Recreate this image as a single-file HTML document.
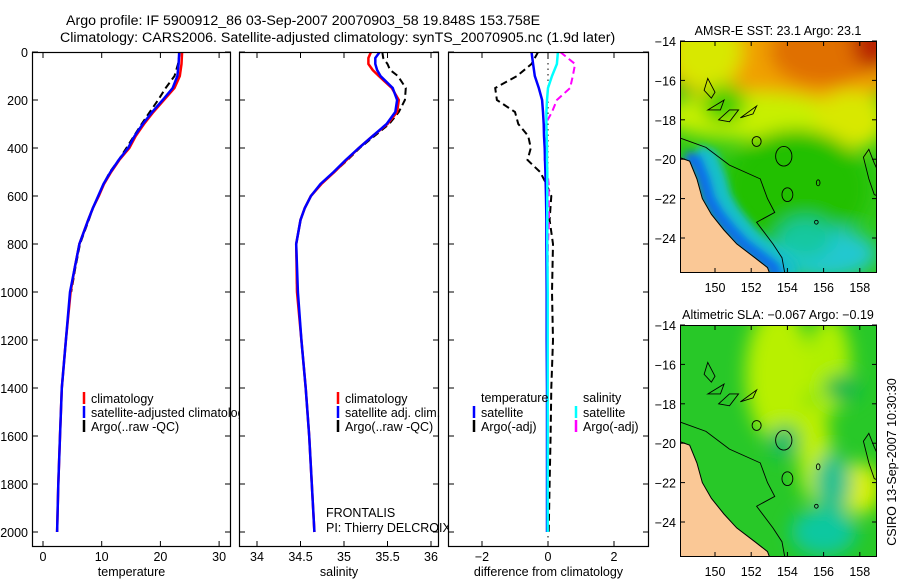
<!DOCTYPE html>
<html><head><meta charset="utf-8">
<style>
body{margin:0;background:#fff;}
svg{display:block;font-family:"Liberation Sans",sans-serif;}
text{fill:#000;}
</style></head>
<body>
<svg id="fig" width="900" height="580" viewBox="0 0 900 580" xmlns="http://www.w3.org/2000/svg">
<defs>
<filter id="blur1" x="-20%" y="-20%" width="140%" height="140%"><feGaussianBlur stdDeviation="9"/></filter>
<filter id="blur2" x="-20%" y="-20%" width="140%" height="140%"><feGaussianBlur stdDeviation="4"/></filter>
<clipPath id="clipTop"><rect x="680" y="41" width="197" height="231"/></clipPath>
<clipPath id="clipBot"><rect x="680" y="325" width="197" height="232"/></clipPath>
<clipPath id="clipP1"><rect x="32" y="52" width="199" height="495"/></clipPath>
<clipPath id="clipP2"><rect x="239" y="52" width="200" height="495"/></clipPath>
<clipPath id="clipP3"><rect x="448" y="52" width="201" height="495"/></clipPath>
</defs>
<text x="66" y="25" font-size="14.2">Argo profile: IF 5900912_86 03-Sep-2007 20070903_58 19.848S 153.758E</text>
<text x="60" y="42" font-size="14.2">Climatology: CARS2006. Satellite-adjusted climatology: synTS_20070905.nc (1.9d later)</text>
<g id="panels"></g>
<g id="maps"></g>
<text x="0" y="0" font-size="12.5" text-anchor="middle" transform="translate(896,462) rotate(-90)">CSIRO 13-Sep-2007 10:30:30</text>
</svg>
<script>
// ---------- data ----------
const depthT = [0,50,100,150,200,250,300,350,400,450,500,550,600,650,700,800,900,1000,1200,1400,1600,1800,2000];
const tempClim = [23.7,23.6,23.3,22.4,20.6,18.8,17.2,15.8,14.7,13.0,11.6,10.4,9.5,8.5,7.7,6.2,5.4,4.7,3.9,3.2,2.9,2.6,2.4];
const tempSat  = [23.2,23.1,22.9,22.1,20.4,18.6,17.0,15.6,14.5,12.9,11.5,10.3,9.4,8.5,7.7,6.2,5.4,4.6,3.9,3.2,2.9,2.6,2.4];
const tempArgo = [23.3,23.0,22.4,20.9,19.6,18.2,16.8,15.5,14.2,12.9,11.4,10.3,9.5,8.5,7.8,6.3,5.5,4.8];
const depthS = [0,25,50,75,100,150,200,250,300,350,400,450,500,550,600,650,700,800,1000,1200,1400,1600,1800,2000];
const salClim = [35.31,35.28,35.28,35.33,35.40,35.55,35.63,35.61,35.50,35.33,35.17,35.03,34.89,34.74,34.62,34.55,34.50,34.45,34.46,34.51,34.56,34.60,34.63,34.66];
const salSat  = [35.41,35.36,35.36,35.38,35.42,35.56,35.61,35.59,35.49,35.33,35.17,35.02,34.88,34.73,34.62,34.55,34.50,34.45,34.47,34.51,34.56,34.60,34.63,34.66];
const salArgo = [35.44,35.45,35.50,35.53,35.62,35.71,35.70,35.63,35.52,35.35,35.18,35.04,34.89,34.74,34.62,34.55,34.50,34.45,34.46];
const depthD = [0,50,100,150,200,250,300,350,400,450,500,550,600,700,800,1000,1200,1400,1600,1800,2000];
const dTSat  = [-0.50,-0.45,-0.40,-0.28,-0.18,-0.15,-0.13,-0.12,-0.10,-0.09,-0.08,-0.07,-0.06,-0.05,-0.05,-0.04,-0.04,-0.03,-0.03,-0.03,-0.03];
const dTArgo = [-0.30,-0.50,-0.94,-1.60,-1.55,-1.00,-0.90,-0.60,-0.52,-0.62,-0.24,-0.05,0.10,0.05,0.15,0.12,0.15,0.10,0.08,0.05,0.02];
const dSSat  = [0.30,0.27,0.12,0.00,-0.03,-0.05,-0.05,-0.04,-0.03,-0.03,-0.02,-0.02,-0.02,-0.02,-0.02,-0.01,-0.01,-0.01,-0.01,-0.01,-0.01];
const dSArgo = [0.37,0.82,0.75,0.67,0.27,0.12,-0.08,-0.12,-0.08,-0.10,-0.02,0.02,0.02,0.03,0.0,-0.02];
const yTicks = [0,200,400,600,800,1000,1200,1400,1600,1800,2000];
const tTicks = [0,10,20,30];
const sTicks = [34,34.5,35,35.5,36];
const dTicks = [-2,0,2];
const latTicks = [-14,-16,-18,-20,-22,-24];
const lonTicks = [150,152,154,156,158];

const NS='http://www.w3.org/2000/svg';
function el(tag, attrs, parent){const e=document.createElementNS(NS,tag);for(const k in attrs)e.setAttribute(k,attrs[k]);if(parent)parent.appendChild(e);return e;}
const yD = d => 52 + d*0.24;
const panelsG = document.getElementById('panels');

function makePanel(cfg){
  const g = el('g',{},panelsG);
  
  
  const bg = el('rect',{x:cfg.x0,y:52,width:cfg.x1-cfg.x0,height:495,fill:'#fff'},g);
  
  
  return g;
}
function series(g, xs, ds, xf, color, w, dash, clip, name){
  const pts = xs.map((v,i)=> xf(v).toFixed(1)+','+yD(ds[i]).toFixed(1)).join(' ');
  const p = el('polyline',{points:pts,fill:'none',stroke:color,'stroke-width':w,'clip-path':'url(#'+clip+')'},g);
  if(dash) p.setAttribute('stroke-dasharray',dash);
  
  
}
function frame(g, x0, x1, xticks, xf, xlabel, yLabels, name){
  const f = el('rect',{x:x0+0.5,y:52.5,width:x1-x0-1,height:494,fill:'none',stroke:'#000','stroke-width':1.2},g);
  
  
  yTicks.forEach(d=>{
    el('line',{x1:x0,x2:x0+6,y1:yD(d),y2:yD(d),stroke:'#000'},g);
    el('line',{x1:x1-6,x2:x1,y1:yD(d),y2:yD(d),stroke:'#000'},g);
    if(yLabels){
      const t = el('text',{x:28,y:yD(d)+5,'font-size':12.5,'text-anchor':'end'},g);
      t.textContent = d;
      
      
    }
  });
  xticks.forEach(v=>{
    const x = xf(v);
    el('line',{x1:x,x2:x,y1:52,y2:58,stroke:'#000'},g);
    el('line',{x1:x,x2:x,y1:541,y2:547,stroke:'#000'},g);
    const t = el('text',{x:x,y:561,'font-size':12.5,'text-anchor':'middle'},g);
    t.textContent = v<0 ? '\u2212'+(-v) : v;
    
    
  });
  const xl = el('text',{x:(x0+x1)/2,y:576,'font-size':12.5,'text-anchor':'middle'},g);
  xl.textContent = xlabel;
  
  
}
function legend(g, x, y, color, label, name){
  const m = el('line',{x1:x,x2:x,y1:y-6,y2:y+6,stroke:color,'stroke-width':2.5},g);
  
  
  if(label){
    const t = el('text',{x:x+7,y:y+5,'font-size':12.5},g);
    t.textContent = label;
    
    
  }
}
function txt(g,x,y,s,name,anchor){
  const t = el('text',{x:x,y:y,'font-size':12.5,'text-anchor':anchor||'start'},g);
  t.textContent = s;
  
  
  return t;
}

// Panel 1: temperature
const xT = v => 43 + v*5.87;
const p1 = makePanel({name:'temperature-panel',x0:32,x1:231});
series(p1,tempArgo,depthT.slice(0,tempArgo.length),xT,'#000',2,'7,4','clipP1','argo-temperature-line');
series(p1,tempClim,depthT,xT,'#f00',2.5,null,'clipP1','climatology-temperature-line');
series(p1,tempSat,depthT,xT,'#00f',2.5,null,'clipP1','satellite-temperature-line');
legend(p1,84,398,'#f00','climatology','legend-climatology');
legend(p1,84,412,'#00f','satellite-adjusted climatology','legend-satellite-adjusted');
legend(p1,84,426,'#000','Argo(..raw -QC)','legend-argo');

// Panel 2: salinity
const xS = v => 257 + (v-34)*87;
const p2 = makePanel({name:'salinity-panel',x0:239,x1:439});
series(p2,salArgo,depthS.slice(0,salArgo.length),xS,'#000',2,'7,4','clipP2','argo-salinity-line');
series(p2,salClim,depthS,xS,'#f00',2.5,null,'clipP2','climatology-salinity-line');
series(p2,salSat,depthS,xS,'#00f',2.5,null,'clipP2','satellite-salinity-line');
legend(p2,338,398,'#f00','climatology','legend-climatology-sal');
legend(p2,338,412,'#00f','satellite adj. clim.','legend-satellite-sal');
legend(p2,338,426,'#000','Argo(..raw -QC)','legend-argo-sal');
txt(p2,326,517,'FRONTALIS','float-name');
txt(p2,326,532,'PI: Thierry DELCROIX','pi-name');

// Panel 3: difference
const xDf = v => 548 + v*33;
const p3 = makePanel({name:'difference-panel',x0:448,x1:649});
el('line',{x1:xDf(0),x2:xDf(0),y1:52,y2:547,stroke:'#000','stroke-dasharray':'1.5,4'},p3);
series(p3,dTArgo,depthD.slice(0,dTArgo.length),xDf,'#000',2,'7,4','clipP3','argo-temperature-diff-line');
series(p3,dSArgo,depthD.slice(0,dSArgo.length),xDf,'#f0f',2,'7,4','clipP3','argo-salinity-diff-line');
series(p3,dTSat,depthD,xDf,'#00f',2.5,null,'clipP3','satellite-temperature-diff-line');
series(p3,dSSat,depthD,xDf,'#0ff',2.5,null,'clipP3','satellite-salinity-diff-line');
txt(p3,481,402,'temperature','legend-temperature-header');
legend(p3,474,412,'#00f','satellite','legend-temp-satellite');
legend(p3,474,426,'#000','Argo(-adj)','legend-temp-argo');
txt(p3,583,402,'salinity','legend-salinity-header');
legend(p3,576,412,'#0ff','satellite','legend-sal-satellite');
legend(p3,576,426,'#f0f','Argo(-adj)','legend-sal-argo');

frame(p1,32,231,tTicks,xT,'temperature',true,'temperature');
frame(p2,239,439,sTicks,xS,'salinity',false,'salinity');
frame(p3,448,649,dTicks,xDf,'difference from climatology',false,'difference');

// ---------- maps ----------
const mapsG = document.getElementById('maps');
const mx = lon => 715 + (lon-150)*18.1;
function makeMap(top, clip, title, blobs, coastBand, base, name){
  const my = lat => top + (-14-lat)*19.7;
  const g = el('g',{},mapsG);
  
  
  const inner = el('g',{'clip-path':'url(#'+clip+')'},g);
  el('rect',{x:680,y:top,width:197,height:232,fill:base},inner);
  const bl = el('g',{filter:'url(#blur1)'},inner);
  blobs.forEach(b=>{
    el('ellipse',{cx:mx(b[0]),cy:my(b[1]),rx:b[2]*18.1,ry:b[3]*19.7,fill:b[4]},bl);
  });
  const coast = [[148,-19.9],[148.6,-20.1],[149.0,-21.0],[149.3,-22.0],[149.8,-22.8],[150.5,-23.6],[151.2,-24.3],[152.2,-25.0],[152.9,-25.5],[153.1,-26],[148,-26]];
  if(coastBand){
    const bg2 = el('g',{filter:'url(#blur2)'},inner);
    coastBand.forEach(b=>{
      const pts = coast.slice(0,10).map(c=>mx(c[0]+b[0])+','+my(c[1]));
      el('polyline',{points:pts.join(' '),fill:'none',stroke:b[2],'stroke-width':b[1]},bg2);
    });
  }
  const land = el('polygon',{points:coast.map(c=>mx(c[0])+','+my(c[1])).join(' '),fill:'#fac896',stroke:'#000','stroke-width':1},inner);
  
  
  const c1 = [[148,-18.9],[149.5,-19.4],[150.8,-20.3],[152.5,-21.0],[152.9,-22.0],[153.3,-22.7],[152.3,-23.2],[153.2,-24.3],[153.7,-25.0],[153.9,-26]];
  el('polyline',{points:c1.map(c=>mx(c[0])+','+my(c[1])).join(' '),fill:'none',stroke:'#000','stroke-width':0.9},inner);
  const c2 = [[159.1,-20.8],[158.8,-20.2],[158.5,-19.5],[158.2,-19.9],[158.5,-21.0],[158.8,-21.8],[159.1,-21.9]];
  el('polyline',{points:c2.map(c=>mx(c[0])+','+my(c[1])).join(' '),fill:'none',stroke:'#000','stroke-width':0.9},inner);
  [[153.8,-19.85,0.45,0.5],[152.3,-19.1,0.25,0.25],[154.0,-21.8,0.3,0.35],[155.7,-21.2,0.1,0.15],[155.6,-23.2,0.1,0.1]].forEach(e=>{
    el('ellipse',{cx:mx(e[0]),cy:my(e[1]),rx:e[2]*18.1,ry:e[3]*19.7,fill:'none',stroke:'#000','stroke-width':0.9},inner);
  });
  [[[149.4,-16.5],[149.6,-15.9],[150.0,-16.6],[149.8,-16.9]],[[149.6,-17.5],[150.5,-17.0],[150.3,-17.5]],[[150.2,-18.0],[150.8,-17.5],[151.3,-17.5],[150.8,-18.1]],[[151.4,-17.9],[152.3,-17.3],[152.1,-17.7]]].forEach(s=>{
    el('polygon',{points:s.map(c=>mx(c[0])+','+my(c[1])).join(' '),fill:'none',stroke:'#000','stroke-width':0.9},inner);
  });
  const fr = el('rect',{x:680.5,y:top+0.5,width:196,height:231,fill:'none',stroke:'#000'},g);
  
  
  latTicks.forEach(l=>{
    el('line',{x1:680,x2:685,y1:my(l),y2:my(l),stroke:'#000'},g);
    el('line',{x1:872,x2:877,y1:my(l),y2:my(l),stroke:'#000'},g);
    const t = el('text',{x:676,y:my(l)+5,'font-size':12.5,'text-anchor':'end'},g);
    t.textContent = '\u2212'+(-l);
    
    
  });
  lonTicks.forEach(l=>{
    el('line',{x1:mx(l),x2:mx(l),y1:top,y2:top+5,stroke:'#000'},g);
    el('line',{x1:mx(l),x2:mx(l),y1:top+227,y2:top+232,stroke:'#000'},g);
    const t = el('text',{x:mx(l),y:top+251,'font-size':12.5,'text-anchor':'middle'},g);
    t.textContent = l;
    
    
  });
  const tt = el('text',{x:778,y:top-6,'font-size':12.5,'text-anchor':'middle'},g);
  tt.textContent = title;
  
  
}
makeMap(41,'clipTop','AMSR-E SST: 23.1  Argo: 23.1',[
  [154,-14,8,3.5,'#f0a000'],[156,-14.5,3,1.8,'#e07000'],[158.8,-14,1.2,1.5,'#b82000'],
  [149.5,-14.5,2,2,'#d8e800'],[152,-17.8,5,1.2,'#c8f000'],[157.5,-18,2,1.5,'#d8e800'],
  [150.5,-17.2,1.2,1,'#40d000'],[154.5,-21.5,4,3,'#20c000'],[156,-24.8,3.0,1.3,'#20c8d0'],
  [155,-24,1.5,1.0,'#18c8a0']
],[[0.9,26,'#18c0c8'],[0.35,14,'#1070e8']],'#30c818','sst-map');
makeMap(325,'clipBot','Altimetric SLA: \u22120.067  Argo: \u22120.19',[
  [153.5,-16.5,1.8,3.5,'#b8f000'],[156.3,-16,1.2,2.5,'#b0f000'],[155.5,-20.5,0.9,2.5,'#c0f000'],
  [158,-22.3,1.2,1.3,'#d8f000'],[157,-17.2,1.0,0.7,'#10b850'],[156,-24.5,1.8,1.2,'#10c8a0'],
  [153.8,-19.9,0.8,0.8,'#10b870'],[156.5,-22,1,1.5,'#20c090']
],null,'#28c828','sla-map');
</script>
</body></html>
